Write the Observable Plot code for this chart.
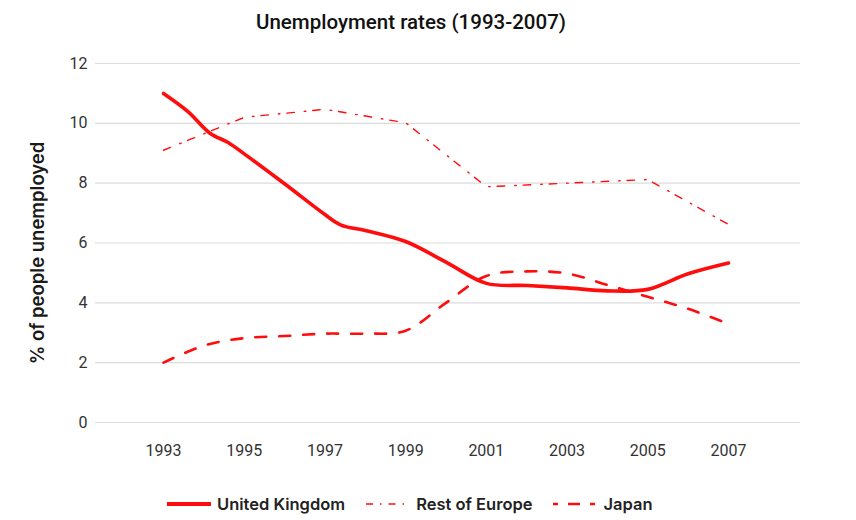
<!DOCTYPE html>
<html>
<head>
<meta charset="utf-8">
<script src="https://cdn.jsdelivr.net/npm/d3@7"></script>
<script src="https://cdn.jsdelivr.net/npm/@observablehq/plot@0.6"></script>
<style>
  html, body { margin: 0; padding: 0; background: #fff; }
  #wrap { position: relative; width: 856px; height: 520px; overflow: hidden; }
  #title { position: absolute; top: 0; left: 0; width: 822px; height: 44px;
           text-align: center; font: 500 20.5px Roboto, sans-serif; line-height: 44px; color: #111; }
  #chart { position: absolute; top: 40px; left: 0; }
  #legend { position: absolute; top: 494px; left: 167px; display: flex; align-items: center;
            font: 600 16.5px Inter, sans-serif; line-height: 20px; color: #222; }
  .item { display: flex; align-items: center; margin-right: 21px; }
  .item svg { margin-right: 6px; }
</style>
</head>
<body>
<div id="wrap">
  <div id="title">Unemployment rates (1993-2007)</div>
  <div id="chart"></div>
  <div id="legend"></div>
</div>
<script>
// Unemployment rate, % of people unemployed
const ukYears = [1993, 1993.6, 1994.15, 1994.6, 1995, 1996, 1997, 1997.4, 1998, 1999, 2000, 2001, 2002, 2003, 2004, 2005, 2006, 2007];
const ukRates = [11.0, 10.4, 9.67, 9.36, 8.98, 7.98, 6.95, 6.6, 6.42, 6.05, 5.36, 4.65, 4.58, 4.5, 4.4, 4.45, 4.97, 5.33];

const europeYears = [1993, 1995, 1997, 1999, 2001, 2003, 2005, 2007];
const europeRates = [9.1, 10.2, 10.47, 10.02, 7.88, 8.0, 8.12, 6.62];

const japanYears = [1993, 1994, 1995, 1996, 1997, 1998, 1999, 2000, 2001, 2002, 2003, 2004, 2005, 2006, 2007];
const japanRates = [2.0, 2.57, 2.82, 2.89, 2.97, 2.97, 3.07, 4.0, 4.9, 5.05, 4.98, 4.6, 4.2, 3.8, 3.3];

const xTicks = [1993, 1995, 1997, 1999, 2001, 2003, 2005, 2007];
const yTicks = [0, 2, 4, 6, 8, 10, 12];

const seriesNames = ["United Kingdom", "Rest of Europe", "Japan"];

const RED = "#ff0d0d";
const styles = {
  "United Kingdom": {strokeWidth: 3.6, dash: null},
  "Rest of Europe": {strokeWidth: 1.4, dash: "7.5,10,1.5,7"},
  "Japan": {strokeWidth: 2.6, dash: "11,13"}
};

const uk = ukYears.map((year, i) => ({year, rate: ukRates[i]}));
const europe = europeYears.map((year, i) => ({year, rate: europeRates[i]}));
const japan = japanYears.map((year, i) => ({year, rate: japanRates[i]}));

const chart = Plot.plot({
  width: 856,
  height: 440,
  marginTop: 23,
  marginBottom: 58,
  marginLeft: 95,
  marginRight: 56,
  style: {fontFamily: "Roboto, sans-serif", fontSize: "16px", color: "#333", background: "#fff"},
  x: {domain: [1991.315, 2008.784], ticks: xTicks, tickFormat: d => String(d)},
  y: {domain: [0, 12], ticks: yTicks},
  marks: [
    Plot.gridY(yTicks, {stroke: "#dcdcdc", strokeOpacity: 1, strokeWidth: 1.2}),
    Plot.axisX({ticks: xTicks, tickSize: 0, tickPadding: 22, tickFormat: d => String(d), label: null, fontSize: 16}),
    Plot.axisY({ticks: yTicks, tickSize: 0, tickPadding: 8, label: null, fontSize: 16}),
    Plot.text(["% of people unemployed"], {
      frameAnchor: "left", textAnchor: "middle", dx: -57, dy: 10, rotate: -90,
      fontFamily: "Inter, sans-serif", fontWeight: 600, fontSize: 18.5, fill: "#1a1a1a"
    }),
    Plot.line(europe, {x: "year", y: "rate", stroke: RED, strokeWidth: styles["Rest of Europe"].strokeWidth,
      strokeDasharray: styles["Rest of Europe"].dash, curve: "linear"}),
    Plot.line(japan, {x: "year", y: "rate", stroke: RED, strokeWidth: styles["Japan"].strokeWidth,
      strokeDasharray: styles["Japan"].dash, curve: "catmull-rom"}),
    Plot.line(uk, {x: "year", y: "rate", stroke: RED, strokeWidth: styles["United Kingdom"].strokeWidth,
      curve: "catmull-rom", strokeLinecap: "round"})
  ]
});
document.getElementById("chart").appendChild(chart);

// Legend swatches with the same stroke styles as the lines
const legend = d3.select("#legend");
seriesNames.forEach(name => {
  const s = styles[name];
  const item = legend.append("div").attr("class", "item");
  const sw = item.append("svg").attr("width", 44).attr("height", 12);
  sw.append("line")
    .attr("x1", 0).attr("x2", 44).attr("y1", 6).attr("y2", 6)
    .attr("stroke", RED)
    .attr("stroke-width", name === "United Kingdom" ? 4 : s.strokeWidth)
    .attr("stroke-dasharray", name === "Rest of Europe" ? "7,7,1.5,7" : (name === "Japan" ? "5,10,12,10" : null));
  item.append("span").text(name);
});
</script>
</body>
</html>
